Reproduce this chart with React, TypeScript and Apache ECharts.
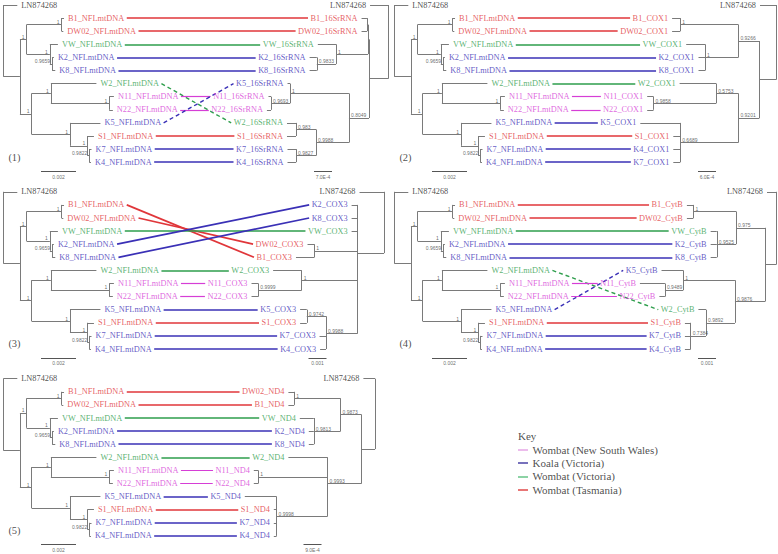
import React, { useEffect, useRef } from "react";
import * as echarts from "echarts";

// ---------------- data ----------------
const genes = ["16SrRNA", "COX1", "COX3", "CytB", "ND4"];
const panelTags = ["(1)", "(2)", "(3)", "(4)", "(5)"];
const outgroup = "LN874268";
const leftSuffix = "NFLmtDNA";
const linkedTaxa = ["B1", "DW02", "VW", "K2", "K8", "W2", "N11", "N22", "K5", "S1", "K7", "K4"];
const taxonGroup: Record<string, string> = {
  LN874268: "out", B1: "tas", DW02: "tas", S1: "tas", VW: "vic", W2: "vic",
  K2: "koala", K8: "koala", K5: "koala", K7: "koala", K4: "koala", N11: "nsw", N22: "nsw",
};
const legendTitle = "Key";
const legendLabels = ["Wombat (New South Wales)", "Koala (Victoria)", "Wombat (Victoria)", "Wombat (Tasmania)"];
const legendGroups = ["nsw", "koala", "vic", "tas"];

// Newick trees: branch lengths in substitutions/site, internal labels = support
const leftTreeNewick =
  "(LN874268:0.0008,(((B1:0.00014,DW02:0.0001)1:0.002,(VW:0.00046,(K2:0.0001,K8:0.00018)0.9659:0.00013)1:0.00133)1:0.00038,((W2:0.0026,(N11:0.00027,N22:0.00021)1:0.00333)1:0.0011,(K5:0.00174,(S1:0.00038,(K7:0.00013,K4:0.0001)0.9822:0.00011)1:0.00099)1:0.00219)1:0.00067):0.00095);";
const rightTreeNewicks = [
  "(LN874268:0.00071,(((B1:0.00021,DW02:0.00021):0.00004,(VW:0.00071,(K2:0.00028,K8:0.00028)0.9833:0.00075)1:0.00124):0.00004,((K5:0.0001,(N11:0.0001,N22:0.00016)0.9693:0.00074)1:0.00229,((W2:0.00035,S1:0.00035)0.983:0.00078,(K7:0.00033,K4:0.00033)0.9827:0.00078)0.9988:0.00128)0.8049:0.00078):0.00075);",
  "(LN874268:0.00055,(((B1:0.00027,DW02:0.00027)1:0.00194,(VW:0.00063,K2:0.00022,K8:0.00022)1:0.00111)0.9266:0.0007,((W2:0.00122,(N11:0.00021,N22:0.00021)0.9858:0.00209)0.5753:0.00074,(K5:0.00133,S1:0.00023,K4:0.00023,K7:0.00023)0.6689:0.00194)0.9201:0.0007):0.00057);",
  "(LN874268:0.00136,(K2:0.00032,K8:0.00032,VW:0.00032,(DW02:0.00038,B1:0.00102)1:0.00239,(W2:0.00159,(N11:0.00038,N22:0.00038)0.9999:0.00241)1:0.00309,((K5:0.00037,S1:0.00037)0.9742:0.00107,K7:0.00036,K4:0.00033)0.9988:0.00174):0.00148);",
  "(LN874268:0.0005,(((B1:0.00036,DW02:0.00036)1:0.00237,(VW:0.00034,K2:0.00034,K8:0.00034)0.9525:0.00107)0.975:0.00161,((K5:0.00121,(N11:0.00139,N22:0.00031)0.9489:0.00102)1:0.00287,(W2:0.00042,(S1:0.00032,K7:0.00032,K4:0.00032)0.7384:0.00085)0.9892:0.00161)0.9876:0.00167):0.00061);",
  "(LN874268:0.00058,(((DW02:0.00029,B1:0.00029)1:0.00232,(VW:0.0007,K2:0.00025,K8:0.00025)0.9813:0.00134)0.9873:0.00105,(W2:0.00196,(N11:0.00022,N22:0.00022)1:0.00347,(K5:0.00159,S1:0.00014,K7:0.00014,K4:0.00014)0.9998:0.00255)0.9993:0.0017):0.00067);",
];
const leftScaleBar = 0.002;
const leftScaleBarLabel = "0.002";
const rightScaleBars = [7e-4, 6e-4, 1e-3, 1e-3, 9e-4];
const rightScaleBarLabels = ["7.0E-4", "6.0E-4", "0.001", "0.001", "9.0E-4"];
// links drawn between non-identical labels (left taxon -> right taxon)
const swappedLinks: [string, string][][] = [[], [["K7", "K4"], ["K4", "K7"]], [], [], [["B1", "DW02"], ["DW02", "B1"]]];
const dashedLinks: string[][] = [["W2", "K5"], [], [], ["W2", "K5"], []];

// ---------------- layout / style ----------------
const W = 778, H = 554;
const PANEL_ORIGINS = [[0, 0], [391, 0], [0, 186.8], [391, 186.8], [0, 373.7]];
const ROW0 = 5, ROWH = 13.1;
const LEFT_ROOT_X = 3.3;
const LEFT_BAR_PX = 35;
const RIGHT_ROOT_X = [388.3, 385.5, 384, 385, 375];
const RIGHT_BAR_PX = 18;
const RIGHT_BAR_CX = [323, 316, 317.5, 316, 312.5];
const LEFT_BAR_CX = 58.5;
const BAR_Y = 171, BAR_LABEL_Y = 176.5;
const TAG_POS = [14.5, 157];
const LABEL_GAP = 3.5, LINK_GAP = 3;
const SERIF = "'Liberation Serif', 'Times New Roman', serif";
const SANS = "'Liberation Sans', Arial, sans-serif";
const LABEL_SIZE = 8.3;
const SUPPORT_SIZE = 5;
const TREE_COLOR = "#7a7a7a";
const groupColor: Record<string, string> = { nsw: "#d63ed6", koala: "#3a30b6", vic: "#2e9e4c", tas: "#e0363a", out: "#222222" };
const legendColor: Record<string, string> = { nsw: "#e6a6e6", koala: "#4a42a6", vic: "#66c487", tas: "#e04848" };
const LEGEND_X = 518, LEGEND_TITLE_Y = 436, LEGEND_Y0 = 449.5, LEGEND_DY = 13.45;

type TNode = { name: string; length: number; children: TNode[]; x: number; y: number };

function parseNewick(s: string): TNode {
  let i = 0;
  const node = (): TNode => {
    const n: TNode = { name: "", length: 0, children: [], x: 0, y: 0 };
    if (s[i] === "(") {
      i++;
      n.children.push(node());
      while (s[i] === ",") { i++; n.children.push(node()); }
      i++;
    }
    let name = "";
    while (i < s.length && !",():;".includes(s[i])) name += s[i++];
    n.name = name;
    if (s[i] === ":") {
      i++;
      let num = "";
      while (i < s.length && !",();".includes(s[i])) num += s[i++];
      n.length = parseFloat(num);
    }
    return n;
  };
  return node();
}

function layoutTree(root: TNode, rootX: number, dir: number, ppu: number, oy: number) {
  let row = 0;
  const leaves: Record<string, TNode> = {};
  const walk = (n: TNode, depth: number) => {
    n.x = rootX + dir * depth * ppu;
    if (!n.children.length) {
      n.y = oy + ROW0 + row * ROWH;
      row++;
      leaves[n.name] = n;
    } else {
      n.children.forEach((c) => walk(c, depth + c.length));
      n.y = n.children.reduce((a, c) => a + c.y, 0) / n.children.length;
    }
  };
  walk(root, 0);
  return leaves;
}

let ctx: CanvasRenderingContext2D | null = null;
function textW(t: string, size: number, family: string) {
  if (!ctx) ctx = document.createElement("canvas").getContext("2d");
  ctx!.font = `${size}px ${family}`;
  return ctx!.measureText(t).width;
}

const leftLabel = (t: string) => (t === outgroup ? t : `${t}_${leftSuffix}`);
const rightLabel = (t: string, p: number) => (t === outgroup ? t : `${t}_${genes[p]}`);

function buildOption() {
  const branches: any[] = [];
  const links: any[] = [];
  const texts: any[] = [];
  const seg = (arr: any[], x1: number, y1: number, x2: number, y2: number, lineStyle?: any) =>
    arr.push(lineStyle ? { coords: [[x1, y1], [x2, y2]], lineStyle } : { coords: [[x1, y1], [x2, y2]] });
  const text = (x: number, y: number, s: string, label: any) =>
    texts.push({ value: [x, y], label: { show: true, formatter: s, ...label } });

  genes.forEach((gene, p) => {
    const [ox, oy] = PANEL_ORIGINS[p];
    const lt = parseNewick(leftTreeNewick);
    const lppu = LEFT_BAR_PX / leftScaleBar;
    const leftLeaves = layoutTree(lt, ox + LEFT_ROOT_X, 1, lppu, oy);
    const rt = parseNewick(rightTreeNewicks[p]);
    const rppu = RIGHT_BAR_PX / rightScaleBars[p];
    const rightLeaves = layoutTree(rt, ox + RIGHT_ROOT_X[p], -1, rppu, oy);

    const draw = (n: TNode, dir: number, isRoot: boolean) => {
      if (n.children.length) {
        const ys = n.children.map((c) => c.y);
        seg(branches, n.x, Math.min(...ys), n.x, Math.max(...ys));
        n.children.forEach((c) => {
          seg(branches, n.x, c.y, c.x, c.y);
          draw(c, dir, false);
        });
        if (n.name && !isRoot) {
          text(n.x, n.y, n.name, {
            position: dir > 0 ? "left" : "right", distance: 1.5, offset: [0, -2.6],
            fontSize: SUPPORT_SIZE, fontFamily: SANS, color: "#444",
          });
        }
      } else {
        const lab = dir > 0 ? leftLabel(n.name) : rightLabel(n.name, p);
        text(n.x, n.y, lab, {
          position: dir > 0 ? "right" : "left", distance: LABEL_GAP,
          fontSize: LABEL_SIZE, fontFamily: SERIF, color: groupColor[taxonGroup[n.name]],
        });
      }
    };
    draw(lt, 1, true);
    draw(rt, -1, true);

    // links
    const swapMap: Record<string, string> = {};
    swappedLinks[p].forEach(([a, b]) => (swapMap[a] = b));
    linkedTaxa.forEach((t) => {
      const rtName = swapMap[t] || t;
      const L = leftLeaves[t], R = rightLeaves[rtName];
      const x1 = L.x + LABEL_GAP + textW(leftLabel(t), LABEL_SIZE, SERIF) + LINK_GAP;
      const x2 = R.x - LABEL_GAP - textW(rightLabel(rtName, p), LABEL_SIZE, SERIF) - LINK_GAP;
      const g = taxonGroup[t];
      const dashed = dashedLinks[p].includes(t);
      seg(links, x1, L.y, x2, R.y, {
        color: groupColor[g], width: dashed ? 1.4 : g === "nsw" ? 1.2 : 1.7, opacity: 1,
        type: dashed ? [4, 3] : "solid",
      });
    });

    // scale bars
    const lb = leftScaleBar * lppu;
    seg(branches, ox + LEFT_BAR_CX - lb / 2, oy + BAR_Y, ox + LEFT_BAR_CX + lb / 2, oy + BAR_Y, { color: "#555", width: 1, opacity: 1 });
    text(ox + LEFT_BAR_CX, oy + BAR_LABEL_Y, leftScaleBarLabel, { position: "inside", fontSize: SUPPORT_SIZE, fontFamily: SANS, color: "#444" });
    const rb = rightScaleBars[p] * rppu;
    seg(branches, ox + RIGHT_BAR_CX[p] - rb / 2, oy + BAR_Y, ox + RIGHT_BAR_CX[p] + rb / 2, oy + BAR_Y, { color: "#555", width: 1, opacity: 1 });
    text(ox + RIGHT_BAR_CX[p], oy + BAR_LABEL_Y, rightScaleBarLabels[p], { position: "inside", fontSize: SUPPORT_SIZE, fontFamily: SANS, color: "#444" });

    // panel tag
    text(ox + TAG_POS[0], oy + TAG_POS[1], panelTags[p], { position: "inside", fontSize: 10.5, fontFamily: SERIF, color: "#222" });
  });

  // legend
  text(LEGEND_X - 0.5, LEGEND_TITLE_Y, legendTitle, { position: "right", distance: 0, fontSize: 11, fontFamily: SERIF, color: "#222" });
  legendLabels.forEach((lab, i) => {
    const y = LEGEND_Y0 + i * LEGEND_DY;
    seg(links, LEGEND_X, y, LEGEND_X + 10, y, { color: legendColor[legendGroups[i]], width: 1.5, opacity: 1, type: "solid" });
    text(LEGEND_X + 14, y, lab, { position: "right", distance: 0, fontSize: 11, fontFamily: SERIF, color: "#222" });
  });

  return {
    animation: false,
    backgroundColor: "#ffffff",
    grid: { left: 0, right: 0, top: 0, bottom: 0, containLabel: false },
    xAxis: { type: "value", min: 0, max: W, show: false },
    yAxis: { type: "value", min: 0, max: H, inverse: true, show: false },
    series: [
      {
        type: "lines", coordinateSystem: "cartesian2d", silent: true, z: 2,
        lineStyle: { color: TREE_COLOR, width: 1, opacity: 1 },
        data: branches,
      },
      {
        type: "lines", coordinateSystem: "cartesian2d", silent: true, z: 3,
        lineStyle: { width: 1.7, opacity: 1 },
        data: links,
      },
      {
        type: "scatter", silent: true, z: 4, clip: false,
        symbolSize: 1, itemStyle: { color: "rgba(0,0,0,0)" },
        data: texts,
      },
    ],
  };
}

export default function App() {
  const ref = useRef<HTMLDivElement>(null);
  useEffect(() => {
    const chart = echarts.init(ref.current!, null, { renderer: "svg" });
    chart.setOption(buildOption() as any);
    return () => chart.dispose();
  }, []);
  return (
    <div
      ref={ref}
      style={{ position: "absolute", left: 0, top: 0, width: W, height: H, background: "#fff" }}
    />
  );
}
